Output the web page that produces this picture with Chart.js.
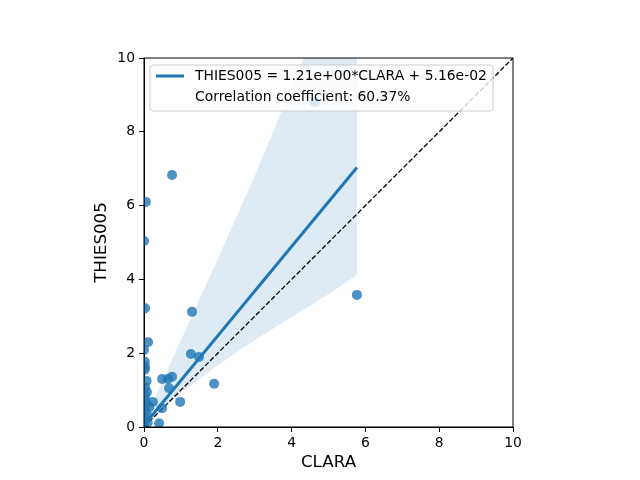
<!DOCTYPE html>
<html>
<head>
<meta charset="utf-8">
<script src="https://cdn.jsdelivr.net/npm/chart.js@4"></script>
<style>
    html, body { margin: 0; padding: 0; background: #fff; }
    #wrap { width: 640px; height: 480px; }
</style>
</head>
<body>
<div id="wrap"><canvas id="chart" width="640" height="480"></canvas></div>
<script>
// values
const claraX = [0.76, 0.05, 0.00, 0.03, 1.30, 5.77, 4.63, 0.11, 1.27, 1.49,
    1.90, 0.49, 0.65, 0.76, 0.68, 0.98, 0.24, 0.49, 0.41,
    0.00, 0.02, 0.03, 0.02, 0.07, 0.03, 0.08, 0.03, 0.14, 0.05,
    0.02, 0.08, 0.03, 0.10, 0.00, 0.05, 0.00];
const thiesY = [6.83, 6.10, 5.04, 3.22, 3.12, 3.58, 8.80, 2.30, 1.98, 1.90,
    1.17, 1.30, 1.30, 1.36, 1.05, 0.68, 0.68, 0.51, 0.10,
    2.09, 1.77, 1.63, 1.55, 1.25, 1.08, 0.95, 0.85, 0.54, 0.70,
    0.45, 0.35, 0.25, 0.12, 0.05, 0.60, 0.00];

const slope = 1.21;
const intercept = 0.0516;
const fitX = [0, 5.77];

// confidence band edges
const bandX = [0, 1, 2, 3, 4, 5, 5.77];
const bandLower = [0.00, 0.92, 1.68, 2.35, 2.98, 3.60, 4.12];
const bandUpper = [0.12, 2.35, 4.55, 6.80, 9.20, 11.70, 13.60];

const identityX = [0, 10];

const xTicks = [0, 2, 4, 6, 8, 10];
const yTicks = [0, 2, 4, 6, 8, 10];

const legendLines = ['THIES005 = 1.21e+00*CLARA + 5.16e-02', 'Correlation coefficient: 60.37%'];
const xTitle = 'CLARA';
const yTitle = 'THIES005';

const blue = '#1f77b4';
const FONT = 'DejaVu Sans';

function pairs(xs, ys) {
    return xs.map((x, i) => ({ x: x, y: ys[i] }));
}

let points = pairs(claraX, thiesY);
let fitLine = fitX.map(x => ({ x: x, y: slope * x + intercept }));
let upper = pairs(bandX, bandUpper);
let lower = pairs(bandX, bandLower);
let identity = identityX.map(x => ({ x: x, y: x }));

// frame, axis titles and the in-plot legend
const decor = {
    id: 'decor',
    afterDatasetsDraw(chart) {
        let ctx = chart.ctx;
        let a = chart.chartArea;
        ctx.save();
        ctx.strokeStyle = '#000';
        ctx.lineWidth = 1;
        ctx.strokeRect(a.left, a.top, a.right - a.left, a.bottom - a.top);

        // legend box
        let bx = a.left + 6, by = a.top + 7, bw = 343, bh = 46, r = 3;
        ctx.beginPath();
        ctx.moveTo(bx + r, by);
        ctx.arcTo(bx + bw, by, bx + bw, by + bh, r);
        ctx.arcTo(bx + bw, by + bh, bx, by + bh, r);
        ctx.arcTo(bx, by + bh, bx, by, r);
        ctx.arcTo(bx, by, bx + bw, by, r);
        ctx.closePath();
        ctx.fillStyle = 'rgba(255,255,255,0.8)';
        ctx.fill();
        ctx.strokeStyle = '#cccccc';
        ctx.stroke();

        ctx.strokeStyle = blue;
        ctx.lineWidth = 3;
        ctx.beginPath();
        ctx.moveTo(bx + 6, by + 11);
        ctx.lineTo(bx + 34, by + 11);
        ctx.stroke();

        ctx.fillStyle = '#000';
        ctx.font = '13.9px "' + FONT + '"';
        ctx.textAlign = 'left';
        ctx.textBaseline = 'middle';
        ctx.fillText(legendLines[0], bx + 45, by + 11);
        ctx.fillText(legendLines[1], bx + 45, by + 32);

        // axis titles
        ctx.font = '16.7px "' + FONT + '"';
        ctx.textAlign = 'center';
        ctx.fillText(xTitle, (a.left + a.right) / 2, 463);
        ctx.translate(102, (a.top + a.bottom) / 2);
        ctx.rotate(-Math.PI / 2);
        ctx.fillText(yTitle, 0, 0);
        ctx.restore();
    }
};

const tickFont = { family: FONT, size: 13.9 };

new Chart(document.getElementById('chart').getContext('2d'), {
    type: 'scatter',
    data: {
        datasets: [{
            label: 'points',
            data: points,
            backgroundColor: 'rgba(31,119,180,0.8)',
            borderWidth: 0,
            pointRadius: 5,
            pointHoverRadius: 5
        }, {
            label: 'identity',
            data: identity,
            showLine: true,
            borderColor: '#000',
            borderWidth: 1.3,
            borderDash: [5, 2.2],
            pointRadius: 0
        }, {
            label: 'fit',
            data: fitLine,
            showLine: true,
            borderColor: blue,
            borderWidth: 3,
            pointRadius: 0
        }, {
            label: 'upper',
            data: upper,
            showLine: true,
            borderWidth: 0,
            borderColor: 'rgba(0,0,0,0)',
            pointRadius: 0,
            backgroundColor: 'rgba(31,119,180,0.15)',
            fill: { target: 4 }
        }, {
            label: 'lower',
            data: lower,
            showLine: true,
            borderWidth: 0,
            borderColor: 'rgba(0,0,0,0)',
            pointRadius: 0
        }]
    },
    options: {
        responsive: false,
        animation: false,
        devicePixelRatio: 1,
        layout: { padding: { left: 0, top: 58, right: 127, bottom: 0 } },
        plugins: {
            legend: { display: false },
            tooltip: { enabled: false },
            filler: { propagate: false }
        },
        scales: {
            x: {
                type: 'linear',
                min: 0, max: 10,
                afterBuildTicks(scale) { scale.ticks = xTicks.map(v => ({ value: v })); },
                afterFit(scale) { scale.height = 53; },
                grid: { drawOnChartArea: false, drawTicks: true, tickLength: 5, color: '#000' },
                border: { display: true, color: '#000', width: 1 },
                ticks: { font: tickFont, color: '#000', padding: 3, maxRotation: 0 }
            },
            y: {
                type: 'linear',
                min: 0, max: 10,
                afterBuildTicks(scale) { scale.ticks = yTicks.map(v => ({ value: v })); },
                afterFit(scale) { scale.width = 144; },
                grid: { drawOnChartArea: false, drawTicks: true, tickLength: 5, color: '#000' },
                border: { display: true, color: '#000', width: 1 },
                ticks: { font: tickFont, color: '#000', padding: 4 }
            }
        }
    },
    plugins: [decor]
});
</script>
</body>
</html>
